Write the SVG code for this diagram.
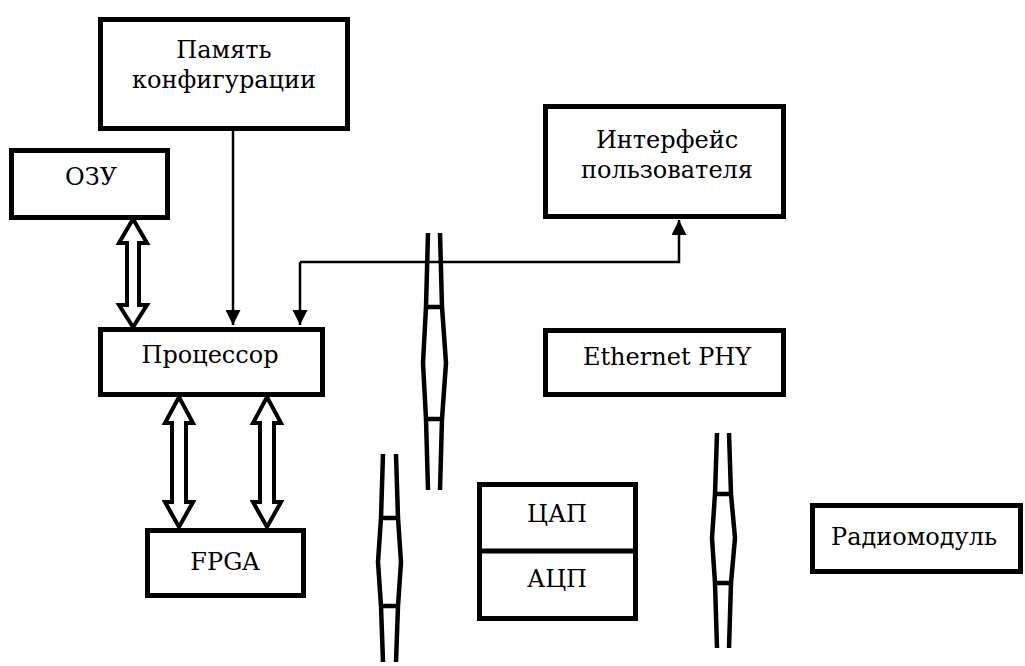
<svg xmlns="http://www.w3.org/2000/svg" width="1025" height="666" viewBox="0 0 1025 666">
<style>
.box{fill:#fff;stroke:#000;stroke-width:5}
.t{font-family:'DejaVu Serif',serif;font-size:24px;fill:#000;text-anchor:middle}
.ln{fill:none;stroke:#000;stroke-width:2.5}
.dbl{fill:#fff;stroke:#000;stroke-width:4;stroke-linejoin:miter}
.br{fill:none;stroke:#000;stroke-width:4.5}
</style>
<defs>
<marker id="ah" viewBox="0 0 10 10" refX="10" refY="5" markerWidth="6" markerHeight="6" orient="auto" markerUnits="strokeWidth">
<path d="M0,0 L10,5 L0,10 z" fill="#000"/>
</marker>
</defs>
<rect width="1025" height="666" fill="#fff"/>
<g id="connectors">
<path class="ln" d="M233,131 V325" marker-end="url(#ah)"/>
<path class="ln" d="M300,262 V325" marker-end="url(#ah)"/>
<path class="ln" d="M300,262 H679 V220" marker-end="url(#ah)"/>
<polygon class="dbl" points="133,219 147,243 139,243 139,305 147,305 133,327 119,305 127,305 127,243 119,243"/>
<polygon class="dbl" points="179,397 193,423 186,423 186,502 193,502 179,527 165,502 172,502 172,423 165,423"/>
<polygon class="dbl" points="267,397 281,423 274,423 274,502 281,502 267,527 253,502 260,502 260,423 253,423"/>
<path class="br" d="M428,233 L426,307 L423,363 L426,419 L428,490 M440,233 L442,307 L446,363 L442,419 L440,490 M426,307 H442 M426,419 H442"/>
<path class="br" d="M383,454 L381,518 L378,562 L381,606 L383,662 M396,454 L398,518 L401,562 L398,606 L396,662 M381,518 H398 M381,606 H398"/>
<path class="br" d="M717,433 L715,494 L712,538 L715,583 L717,648 M729,433 L731,494 L735,538 L731,583 L729,648 M715,494 H731 M715,583 H731"/>
</g>
<g id="node-memory">
<rect class="box" x="100.5" y="19.5" width="247" height="109"/>
<text class="t" x="224" y="58">Память</text>
<text class="t" x="224" y="88">конфигурации</text>
</g>
<g id="node-ozu">
<rect class="box" x="11.5" y="150.5" width="156" height="67"/>
<text class="t" x="91" y="185">ОЗУ</text>
</g>
<g id="node-cpu">
<rect class="box" x="100.5" y="329.5" width="222" height="65"/>
<text class="t" x="210" y="363">Процессор</text>
</g>
<g id="node-ui">
<rect class="box" x="545.5" y="106.5" width="238" height="110"/>
<text class="t" x="667" y="148">Интерфейс</text>
<text class="t" x="667" y="178">пользователя</text>
</g>
<g id="node-eth">
<rect class="box" x="545.5" y="330.5" width="238" height="64"/>
<text class="t" x="667" y="365">Ethernet PHY</text>
</g>
<g id="node-fpga">
<rect class="box" x="147.5" y="530.5" width="156" height="65"/>
<text class="t" x="225" y="570">FPGA</text>
</g>
<g id="node-dac-adc">
<rect class="box" x="479.5" y="484.5" width="156" height="134"/>
<line x1="479.5" y1="551" x2="635.5" y2="551" stroke="#000" stroke-width="5"/>
<text class="t" x="557" y="522">ЦАП</text>
<text class="t" x="557" y="587">АЦП</text>
</g>
<g id="node-radio">
<rect class="box" x="812.5" y="505.5" width="208" height="66"/>
<text class="t" x="914" y="545">Радиомодуль</text>
</g>
</svg>
